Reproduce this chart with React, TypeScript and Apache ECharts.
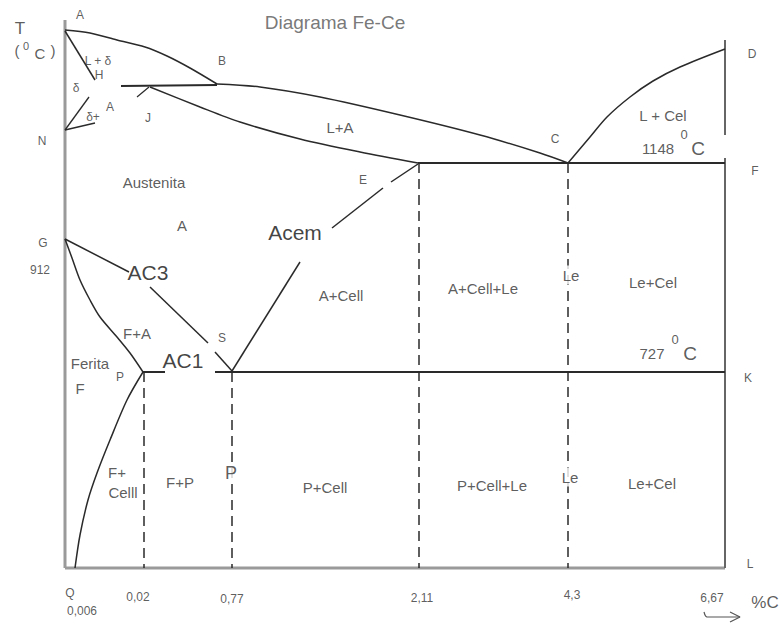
import React, { useEffect, useRef } from "react";
import * as echarts from "echarts";

type Pt = [number, number];
type Lbl = [string, number, number];

// ---- boundary lines of the Fe-C diagram (diagram units) ----
const frameLeft: Pt[] = [[65, 20], [65, 568]];
const frameBottom: Pt[] = [[65, 568], [725, 568]];
const frameRightTop: Pt[] = [[725, 40], [725, 135]];
const frameRightBottom: Pt[] = [[725, 158], [725, 568]];

const liquidusAB: Pt[] = [[65, 30], [90, 33], [117, 40], [145, 47], [167, 56], [190, 68], [217, 84]];
const liquidusBC: Pt[] = [[217, 84], [260, 87], [320, 97], [400, 115], [480, 135], [540, 153], [568, 163]];
const liquidusCD: Pt[] = [[568, 163], [590, 137], [607, 117], [630, 97], [653, 81], [680, 67], [725, 49]];
const lineAH: Pt[] = [[65, 31], [95, 80]];
const lineHJB: Pt[] = [[121, 86], [217, 85]];
const tickJ: Pt[] = [[137, 97], [149, 87]];
const solidusJE: Pt[] = [[150, 87], [200, 107], [240, 122], [300, 139], [360, 152], [418, 163]];
const lineN1: Pt[] = [[65, 130], [89, 97]];
const lineN2: Pt[] = [[65, 130], [95, 123]];
const lineGS1: Pt[] = [[65, 239], [129, 272]];
const lineGS2: Pt[] = [[150, 287], [208, 343]];
const lineSV: Pt[] = [[215, 352], [232, 371]];
const acemLow: Pt[] = [[232, 371], [300, 262]];
const acemMid: Pt[] = [[332, 228], [383, 188]];
const acemTop: Pt[] = [[391, 182], [418, 164]];
const lineGP: Pt[] = [[65, 239], [72, 258], [80, 280], [90, 300], [100, 317], [117, 337], [130, 353], [143, 372]];
const linePQ: Pt[] = [[143, 372], [127, 400], [110, 440], [97, 473], [88, 500], [80, 535], [75, 568]];
const lineECF: Pt[] = [[418, 163], [725, 163]];
const linePSK1: Pt[] = [[143, 372], [165, 372]];
const linePSK2: Pt[] = [[215, 372], [725, 372]];
const dash002: Pt[] = [[144, 372], [144, 568]];
const dash077: Pt[] = [[232, 372], [232, 568]];
const dash211: Pt[] = [[419, 163], [419, 568]];
const dash43: Pt[] = [[568, 163], [568, 568]];
const arrowShaft: Pt[] = [[704, 612], [707, 617], [740, 617]];
const arrowHead: Pt[] = [[730, 612], [740, 617], [730, 622]];

// ---- labels ----
const pointLabels: Lbl[] = [
  ["A", 80, 15], ["L + δ", 98, 61], ["H", 99, 75], ["B", 222, 61], ["δ", 76, 88],
  ["A", 110, 107], ["δ+", 93, 117], ["J", 148, 118], ["N", 42, 141], ["C", 555, 139],
  ["D", 752, 54], ["E", 363, 180], ["F", 755, 171], ["G", 43, 243], ["912", 40, 270],
  ["S", 222, 338], ["P", 120, 377], ["K", 748, 378], ["L", 750, 564],
];
const tickLabels: Lbl[] = [
  ["Q", 70, 593], ["0,006", 82, 611], ["0,02", 138, 597], ["0,77", 232, 599],
  ["2,11", 422, 598], ["4,3", 572, 595], ["6,67", 712, 598],
];
const regionLabels: Lbl[] = [
  ["Austenita", 154, 182], ["A", 182, 225], ["L+A", 340, 127], ["L + Cel", 663, 115],
  ["F+A", 137, 333], ["Ferita", 90, 363], ["F", 80, 388], ["A+Cell", 341, 295],
  ["A+Cell+Le", 483, 288], ["Le+Cel", 653, 282], ["F+", 117, 472],
  ["Celll", 123, 492], ["F+P", 180, 482], ["P+Cell", 325, 487], ["P+Cell+Le", 492, 485],
  ["Le+Cel", 652, 483], ["1148", 658, 148], ["727", 652, 353],
];
const onDashLabels: Lbl[] = [["Le", 571, 275], ["Le", 570, 477]];
const bigLabels: Lbl[] = [["AC3", 148, 272], ["AC1", 183, 360], ["Acem", 295, 232]];
const pearliteLabel: Lbl[] = [["P", 231, 473]];
const degreeSup: Lbl[] = [["0", 684, 134], ["0", 675, 339]];
const degreeC: Lbl[] = [["C", 698, 148], ["C", 690, 353]];
const axisTitleBig: Lbl[] = [["T", 20, 28], ["%C", 765, 602]];
const axisTitleParts: Lbl[] = [["(", 17, 50], [")", 53, 50], ["C", 40, 53]];
const axisTitleSup: Lbl[] = [["0", 26, 46]];
const titleText: Lbl[] = [["Diagrama Fe-Ce", 335, 22]];

const FONT = "'Liberation Sans', Arial, sans-serif";

function lineSeries(data: Pt[], color: string, width: number, dashed = false, smooth: boolean | number = false) {
  return {
    type: "line",
    data,
    showSymbol: false,
    symbol: "none",
    smooth,
    silent: true,
    lineStyle: { color, width, type: dashed ? [10, 6] : "solid", cap: "butt" },
    z: 2,
  };
}

function labelSeries(items: Lbl[], fontSize: number, color: string, bg?: string) {
  return {
    type: "scatter",
    data: items.map(([t, x, y]) => ({ name: t, value: [x, y] })),
    symbol: "circle",
    symbolSize: 1,
    silent: true,
    itemStyle: { color: "transparent" },
    label: {
      show: true,
      position: "inside",
      formatter: "{b}",
      fontSize,
      color,
      fontFamily: FONT,
      align: "center",
      verticalAlign: "middle",
      ...(bg ? { backgroundColor: bg, padding: [2, 1] } : {}),
    },
    z: 5,
  };
}

export default function App() {
  const ref = useRef<HTMLDivElement>(null);
  useEffect(() => {
    if (!ref.current) return;
    const chart = echarts.init(ref.current, undefined, { renderer: "svg" });
    const dark = "#2a2a2a";
    chart.setOption({
      animation: false,
      backgroundColor: "#ffffff",
      grid: { left: 0, right: 0, top: 0, bottom: 0 },
      xAxis: { type: "value", min: 0, max: 782, show: false },
      yAxis: { type: "value", min: 0, max: 625, inverse: true, show: false },
      series: [
        lineSeries(frameLeft, "#9a9a9a", 3),
        lineSeries(frameBottom, "#9a9a9a", 3),
        lineSeries(frameRightTop, "#666", 2),
        lineSeries(frameRightBottom, "#666", 2),
        lineSeries(liquidusAB, dark, 1.5, false, 0.3),
        lineSeries(liquidusBC, dark, 1.5, false, 0.3),
        lineSeries(liquidusCD, dark, 1.5, false, 0.3),
        lineSeries(lineAH, dark, 1.5),
        lineSeries(lineHJB, dark, 1.8),
        lineSeries(tickJ, dark, 1.2),
        lineSeries(solidusJE, dark, 1.5, false, 0.3),
        lineSeries(lineN1, dark, 1.3),
        lineSeries(lineN2, dark, 1.3),
        lineSeries(lineGS1, dark, 1.5),
        lineSeries(lineGS2, dark, 1.5),
        lineSeries(lineSV, dark, 1.5),
        lineSeries(acemLow, dark, 1.5),
        lineSeries(acemMid, dark, 1.5),
        lineSeries(acemTop, dark, 1.5),
        lineSeries(lineGP, dark, 1.5, false, 0.3),
        lineSeries(linePQ, dark, 1.5, false, 0.3),
        lineSeries(lineECF, dark, 2),
        lineSeries(linePSK1, dark, 2),
        lineSeries(linePSK2, dark, 2),
        lineSeries(dash002, dark, 1.5, true),
        lineSeries(dash077, dark, 1.5, true),
        lineSeries(dash211, dark, 1.5, true),
        lineSeries(dash43, dark, 1.5, true),
        lineSeries(arrowShaft, "#555", 1.2, false, 0.3),
        lineSeries(arrowHead, "#555", 1.2),
        labelSeries(pointLabels, 12, "#333"),
        labelSeries(tickLabels, 12, "#333"),
        labelSeries(regionLabels, 15, "#333"),
        labelSeries(onDashLabels, 15, "#333", "#ffffff"),
        labelSeries(bigLabels, 21, "#111"),
        labelSeries(pearliteLabel, 18, "#333", "#ffffff"),
        labelSeries(degreeSup, 13, "#333"),
        labelSeries(degreeC, 19, "#333"),
        labelSeries(axisTitleBig, 17, "#333"),
        labelSeries(axisTitleParts, 15, "#333"),
        labelSeries(axisTitleSup, 11, "#333"),
        labelSeries(titleText, 19, "#555"),
      ],
    });
    return () => chart.dispose();
  }, []);
  return (
    <div
      ref={ref}
      style={{ position: "fixed", left: 0, top: 0, width: 782, height: 625, background: "#fff" }}
    />
  );
}
